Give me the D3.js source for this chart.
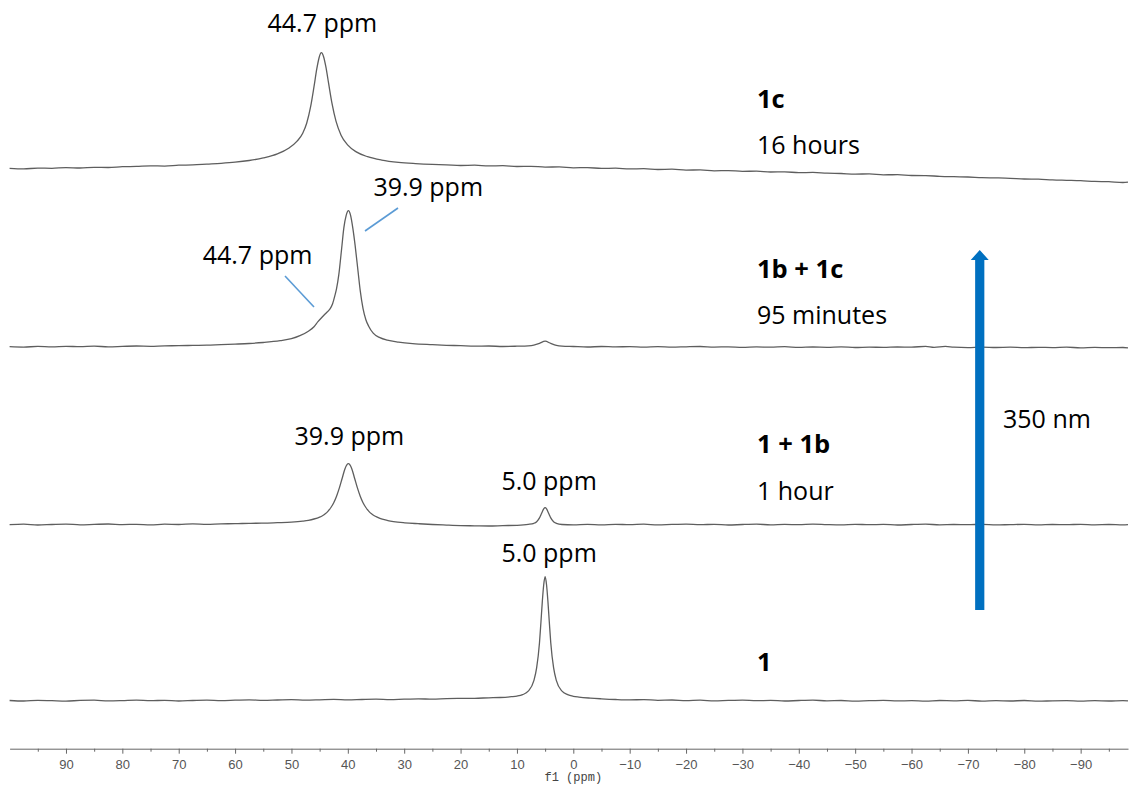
<!DOCTYPE html>
<html>
<head>
<meta charset="utf-8">
<script src="https://cdn.jsdelivr.net/npm/d3@7"></script>
<style>
body { margin: 0; background: #fff; }
text { font-family: "Open Sans", sans-serif; }
</style>
</head>
<body>
<script>
// spectra, [ppm, intensity], bottom trace first
var spec1 = [[100,0.2],[97.5,-0.3],[95,0.4],[92.5,0],[90,-0.4],[87.5,0.3],[85,0.5],[82.5,-0.2],[80,0.1],[77.5,0.6],[75,0],[72.5,0.4],[70,-0.3],[67.5,0.2],[65,0.6],[62.5,0.1],[60,0.5],[57.5,0.9],[55,0.3],[52.5,0.7],[50,1.1],[47.5,0.6],[45,0.9],[42.5,1.3],[40,0.8],[37.5,1.2],[35,1.5],[32.5,1.1],[30,1.6],[27.5,1.9],[25,1.5],[22.5,2.1],[20,2.3],[17.5,2.4],[15,2.9],[13,3.2],[11,4.0],[10,4.6],[9,6.0],[8,9.5],[7,20],[6.5,33],[6,58],[5.75,78],[5.5,99],[5.25,116],[5,124],[4.75,116],[4.5,99],[4.25,78],[4,58],[3.5,33],[3,20],[2,9.5],[1,6.0],[0,4.4],[-1,3.6],[-3,2.6],[-5,1.9],[-7.5,1.2],[-10,0.8],[-12.5,1.1],[-15,0.4],[-17.5,0.7],[-20,0.1],[-22.5,0.5],[-25,-0.2],[-27.5,0.3],[-30,0.6],[-32.5,0],[-35,0.3],[-37.5,-0.3],[-40,0.2],[-42.5,0.5],[-45,-0.1],[-47.5,0.2],[-50,-0.4],[-52.5,0.1],[-55,0.4],[-57.5,-0.2],[-60,0],[-62.5,-0.5],[-65,0.2],[-67.5,-0.1],[-70,0.3],[-72.5,-0.4],[-75,0],[-77.5,-0.3],[-80,0.2],[-82.5,-0.5],[-85,-0.1],[-87.5,0.1],[-90,-0.4],[-92.5,0],[-95,-0.3],[-97.5,0.1],[-98.4,-0.2]];

var spec2 = [[100,0],[97.5,0.5],[95,-0.3],[92.5,0.2],[90,0.6],[87.5,-0.1],[85,0.3],[82.5,0.7],[80,0.1],[77.5,0.4],[75,-0.2],[72.5,0.5],[70,0.2],[67.5,0.8],[65,0.4],[62.5,0.9],[60,1.0],[57.5,1.4],[55,1.5],[52.5,2.0],[50,2.6],[48,3.6],[47,4.4],[46,5.7],[45,7.6],[44.5,9.0],[44,10.9],[43.5,13.6],[43,17.2],[42.5,22],[42,28.5],[41.5,36.8],[41,46.5],[40.5,56],[39.9,61],[39.3,56],[38.8,46.5],[38.3,36.8],[37.8,28.5],[37.3,22],[36.8,17.2],[36.3,13.6],[35.8,10.9],[35.3,9.0],[34.8,7.6],[33.9,5.5],[32.9,4.1],[31.9,3.1],[29.9,1.9],[27.5,1.0],[25,0.2],[22.5,-0.4],[20,-0.9],[17.5,-1.1],[15,-1.3],[12.5,-0.9],[10,-0.6],[8,0.3],[7,1.4],[6.5,3.0],[6,6.8],[5.75,9.8],[5.5,13.0],[5.25,15.8],[5,17],[4.75,15.8],[4.5,13.0],[4.25,9.8],[4,6.8],[3.5,3.0],[3,1.4],[2,0.2],[0,-0.2],[-2.5,0.3],[-5,-0.1],[-7.5,0.4],[-10,0],[-12.5,0.5],[-15,-0.2],[-17.5,0.3],[-20,0.6],[-22.5,0],[-25,0.4],[-27.5,-0.3],[-30,0.2],[-32.5,0.5],[-35,-0.1],[-37.5,0.3],[-40,0],[-42.5,0.6],[-45,0.1],[-47.5,-0.2],[-50,0.4],[-52.5,0],[-55,0.3],[-57.5,-0.3],[-60,0.2],[-62.5,0.5],[-65,-0.1],[-67.5,0.2],[-70,0],[-72.5,0.4],[-75,-0.2],[-77.5,0.1],[-80,0.3],[-82.5,-0.2],[-85,0.2],[-87.5,0],[-90,0.4],[-92.5,-0.1],[-95,0.2],[-97.5,-0.2],[-98.4,0]];

var spec3 = [[100,0],[97.5,-0.4],[95,0.3],[92.5,-0.2],[90,0.4],[87.5,0],[85,0.5],[82.5,-0.1],[80,0.3],[77.5,0.7],[75,0.4],[72.5,0.9],[70,1.0],[67.5,1.3],[65,1.5],[62.5,2.1],[60,2.6],[57.5,3.2],[55,4.2],[52,6],[50,8],[48.5,11],[47,15.5],[46,20],[45.3,25],[44.5,30],[43.8,34],[43.2,37.5],[42.7,43],[42.3,51],[42,58],[41.6,72],[41.1,98],[40.7,119],[40.3,131],[39.9,136],[39.5,131],[39.1,118],[38.7,101],[38.2,76],[37.8,56],[37.3,38],[36.8,27],[36.3,20.5],[35.5,13.5],[34.3,9],[33,6.5],[31,4.5],[28.5,3],[25,2],[22.5,1.4],[20,1.0],[17.5,0.5],[15,0.7],[12.5,0.2],[10,0.5],[8,0.9],[7,1.6],[6,3.3],[5,5.5],[4,3.3],[3,1.4],[2,0.6],[0,0.2],[-2.5,-0.3],[-5,0.2],[-7.5,-0.2],[-10,0.1],[-12.5,-0.4],[-15,0],[-17.5,-0.5],[-20,-0.1],[-22.5,0.2],[-25,-0.4],[-27.5,-0.1],[-30,-0.6],[-32.5,-0.2],[-35,-0.5],[-37.5,0],[-40,-0.7],[-42.5,-0.3],[-45,-0.6],[-47.5,-0.2],[-50,-0.8],[-52.5,-0.4],[-55,-0.7],[-57.5,-0.3],[-60,-0.5],[-62.5,0.4],[-64,-0.6],[-66,0.3],[-67.5,-0.5],[-70,-0.9],[-72.5,-0.4],[-75,-0.8],[-77.5,-0.5],[-80,-1.0],[-82.5,-0.6],[-85,-0.9],[-87.5,-0.5],[-90,-1.1],[-92.5,-0.7],[-95,-1.0],[-97.5,-0.8],[-98.4,-1.1]];

var spec4 = [[100,0.3],[97.5,-0.2],[95,0.6],[92.5,0.4],[90,1.1],[87.5,0.7],[85,1.4],[82.5,1.2],[80,2.0],[77.5,2.3],[75,2.9],[72.5,2.6],[70,3.5],[67.5,3.8],[65,4.6],[62.5,5.4],[60,6.5],[57.5,8.2],[55,10.8],[52.5,14.8],[50.5,20.5],[49,27.5],[48,35.5],[47.3,45.5],[46.6,62],[46,82],[45.5,100],[45.1,111],[44.7,116],[44.3,112],[43.9,102],[43.4,85],[42.8,65],[42.1,47.5],[41.2,33.5],[40,23.5],[38.5,16.8],[36.5,12],[34,8.6],[31,6.3],[28,5.1],[25,4.3],[22.5,3.9],[20,3.2],[17.5,3.5],[15,2.8],[12.5,3.0],[10,2.2],[7.5,2.4],[5,1.6],[2.5,1.8],[0,0.9],[-2.5,1.1],[-5,0.3],[-7.5,0.5],[-10,-0.2],[-12.5,0],[-15,-0.8],[-17.5,-0.5],[-20,-1.4],[-22.5,-1.2],[-25,-2.1],[-27.5,-1.9],[-30,-2.6],[-32.5,-2.5],[-35,-3.3],[-37.5,-3.1],[-40,-4.0],[-42.5,-3.7],[-45,-4.5],[-47.5,-4.8],[-50,-5.4],[-52.5,-5.2],[-55,-6.1],[-57.5,-6.0],[-60,-6.8],[-62.5,-6.9],[-65,-7.6],[-67.5,-8.0],[-70,-8.3],[-72.5,-8.9],[-75,-9.2],[-77.5,-9.6],[-80,-10.3],[-82.5,-10.5],[-85,-11.2],[-87.5,-11.6],[-90,-12.0],[-92.5,-12.7],[-95,-13.0],[-97.5,-13.8],[-98.4,-13.5]];

var spectra = [spec1, spec2, spec3, spec4];
var offsets = [48, 224, 402, 580]; // stacking offset of each trace
var sampleNames = ["1", "1 + 1b", "1b + 1c", "1c"];
var sampleTimes = ["", "1 hour", "95 minutes", "16 hours"];
var majorTicks = d3.range(90, -91, -10);
var minorTicks = d3.range(95, -96, -10);

var width = 1130, height = 786;

var x = d3.scaleLinear().domain([100, -98.4]).range([9.6, 1128]);
var y = d3.scaleLinear().domain([0, 740]).range([748.7, 8.7]);

var svg = d3.select("body").append("svg")
    .attr("width", width)
    .attr("height", height);

svg.append("rect").attr("width", width).attr("height", height).attr("fill", "#fff");

// traces
spectra.forEach(function(s, i) {
  var line = d3.line()
      .x(function(d) { return x(d[0]); })
      .y(function(d) { return y(d[1] + offsets[i]); })
      .curve(d3.curveMonotoneX);
  svg.append("path")
      .attr("d", line(s))
      .attr("fill", "none")
      .attr("stroke", "#5e5e5e")
      .attr("stroke-width", 1.3);
});

// axis
var axisY = y(0);
var xAxis = d3.axisBottom(x)
    .tickValues(majorTicks)
    .tickSize(5)
    .tickSizeOuter(0)
    .tickPadding(6);
var gx = svg.append("g")
    .attr("transform", "translate(0," + axisY + ")")
    .call(xAxis);
gx.select(".domain").attr("stroke", "#666");
gx.selectAll(".tick line").attr("stroke", "#666");
gx.selectAll(".tick text")
    .attr("fill", "#555")
    .style("font-family", "'Liberation Sans', sans-serif")
    .style("font-size", "13px");

var minorAxis = d3.axisBottom(x).tickValues(minorTicks).tickSize(3).tickFormat("");
var gm = svg.append("g")
    .attr("transform", "translate(0," + axisY + ")")
    .call(minorAxis);
gm.select(".domain").remove();
gm.selectAll(".tick line").attr("stroke", "#666");

svg.append("text")
    .attr("x", x(0))
    .attr("y", 781)
    .attr("text-anchor", "middle")
    .attr("fill", "#444")
    .style("font-family", "'Liberation Mono', monospace")
    .style("font-size", "12px")
    .text("f1 (ppm)");

// sample labels
var nameY = [671, 453, 278, 108];
var timeY = [0, 500, 324, 154];
sampleNames.forEach(function(n, i) {
  svg.append("text")
      .attr("x", 757).attr("y", nameY[i])
      .attr("font-weight", "bold")
      .style("font-size", "25.5px")
      .text(n);
  if (sampleTimes[i]) {
    svg.append("text")
        .attr("x", 757).attr("y", timeY[i])
        .style("font-size", "25px")
        .text(sampleTimes[i]);
  }
});

// peak labels
function peakLabel(tx, ty, anchor, str) {
  svg.append("text")
      .attr("x", tx).attr("y", ty)
      .attr("text-anchor", anchor)
      .style("font-size", "25px")
      .text(str);
}
peakLabel(x(44.7) + 1, 32, "middle", "44.7 ppm");
peakLabel(x(39.9) + 25, 196, "start", "39.9 ppm");
peakLabel(x(39.9) - 36, 264, "end", "44.7 ppm");
peakLabel(x(39.9) + 1, 445, "middle", "39.9 ppm");
peakLabel(x(5.0) + 4, 490, "middle", "5.0 ppm");
peakLabel(x(5.0) + 4, 562, "middle", "5.0 ppm");

// leader lines
svg.append("line")
    .attr("x1", 365).attr("y1", 231).attr("x2", 398).attr("y2", 208)
    .attr("stroke", "#5b9bd5").attr("stroke-width", 1.6);
svg.append("line")
    .attr("x1", 285).attr("y1", 276).attr("x2", 314).attr("y2", 307)
    .attr("stroke", "#5b9bd5").attr("stroke-width", 1.6);

// irradiation arrow
var ax = x(-72.1);
svg.append("path")
    .attr("d", "M" + (ax - 4.6) + ",610 L" + (ax - 4.6) + ",260 L" + (ax - 9) + ",260 L" + ax + ",250 L" +
          (ax + 9) + ",260 L" + (ax + 4.6) + ",260 L" + (ax + 4.6) + ",610 Z")
    .attr("fill", "#0070c0");
svg.append("text")
    .attr("x", 1003).attr("y", 428)
    .style("font-size", "25px")
    .text("350 nm");
</script>
</body>
</html>
